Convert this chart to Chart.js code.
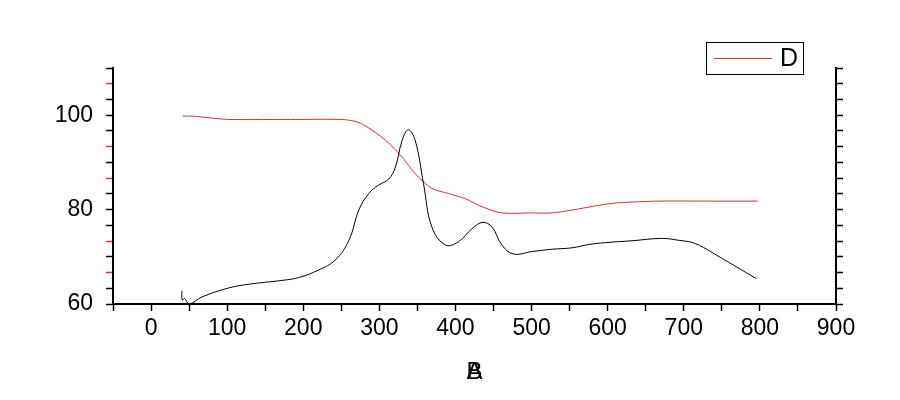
<!DOCTYPE html>
<html>
<head>
<meta charset="utf-8">
<script src="https://cdn.jsdelivr.net/npm/chart.js@4.4.1/dist/chart.umd.min.js"></script>
<style>
  body { margin: 0; background: #fff; }
  #wrap { width: 900px; height: 400px; }
</style>
</head>
<body>
<div id="wrap"><canvas id="chart" width="900" height="400"></canvas></div>
<script>
// black curve (no legend entry)
const blackX = [40.5, 41, 44, 50, 67, 102, 129, 172, 194, 220, 242, 260, 273, 286, 299, 312, 321, 330, 338, 347,
    358, 369, 387, 404, 422, 436, 448, 461, 476, 500, 527, 553, 575, 597, 632, 671, 693, 715, 754, 795];
const blackY = [62.8, 60.8, 61.2, 60.0, 61.5, 63.4, 64.2, 65.0, 65.6, 67.2, 69.3, 73.5, 79.9, 83.4, 85.2, 86.4, 89.0, 94.7, 96.9, 94.7,
    85.5, 76.3, 72.5, 73.2, 76.0, 77.3, 76.3, 72.5, 70.6, 71.1, 71.6, 71.9, 72.6, 73.0, 73.4, 73.9, 73.5, 72.8, 69.3, 65.4];

// red curve "D"
const redX = [42, 54, 85, 102, 194, 250, 268, 281, 308, 330, 347, 369, 391, 413, 435, 461, 500, 527, 553, 588, 610, 632, 667, 736, 797];
const redY = [99.8, 99.8, 99.3, 99.1, 99.1, 99.1, 98.7, 97.8, 94.7, 91.1, 87.6, 84.5, 83.4, 82.3, 80.6, 79.3, 79.3, 79.3, 79.9, 80.9, 81.4, 81.6, 81.8, 81.8, 81.8];

const legendLabel = 'D';
const xTitles = ['B', 'A']; // both printed on the same spot

const xMin = -50, xMax = 900, xStep = 50;
const yMin = 60, yMax = 110, yStep = 10 / 3;

const font = 'Liberation Sans, Arial, sans-serif';
const red = '#cc3333';

function xTicks(scale) {
    const t = [];
    for (let v = xMin; v <= xMax; v += xStep) t.push({ value: v });
    scale.ticks = t;
}
function yTicks(scale) {
    const t = [];
    for (let i = 0; i <= 15; i++) t.push({ value: yMin + i * yStep });
    scale.ticks = t;
}
function isLabelled(v) {
    const r = Math.round(v);
    return Math.abs(v - r) < 1e-6 && r % 20 === 0;
}

const extras = {
    id: 'extras',
    afterDraw(chart) {
        const ctx = chart.ctx;
        const area = chart.chartArea;
        ctx.save();
        // legend box
        const bx = area.right - 130, by = 42, bw = 97, bh = 32;
        ctx.strokeStyle = '#000';
        ctx.lineWidth = 1;
        ctx.strokeRect(bx + 0.5, by + 0.5, bw, bh);
        ctx.strokeStyle = red;
        ctx.beginPath();
        ctx.moveTo(bx + 8, by + 16.5);
        ctx.lineTo(bx + 66, by + 16.5);
        ctx.stroke();
        ctx.fillStyle = '#000';
        ctx.font = '25px ' + font;
        ctx.textBaseline = 'middle';
        ctx.textAlign = 'left';
        ctx.fillText(legendLabel, bx + 74, by + 17);
        // x axis title, letters overlapping
        ctx.textAlign = 'center';
        ctx.font = '24px ' + font;
        const cx = (area.left + area.right) / 2;
        xTitles.forEach(t => ctx.fillText(t, cx, 372));
        ctx.restore();
    }
};

new Chart(document.getElementById('chart'), {
    type: 'line',
    data: {
        datasets: [
            {
                label: 'black',
                data: blackX.map((x, i) => ({ x: x, y: blackY[i] })),
                borderColor: '#000',
                borderWidth: 1,
                pointRadius: 0,
                tension: 0.4,
                yAxisID: 'y'
            },
            {
                label: legendLabel,
                data: redX.map((x, i) => ({ x: x, y: redY[i] })),
                borderColor: red,
                borderWidth: 1,
                pointRadius: 0,
                tension: 0.3,
                yAxisID: 'y'
            }
        ]
    },
    options: {
        responsive: false,
        animation: false,
        layout: { padding: { top: 68, left: 0, right: 0, bottom: 0 } },
        plugins: {
            legend: { display: false },
            tooltip: { enabled: false }
        },
        scales: {
            x: {
                type: 'linear',
                min: xMin,
                max: xMax,
                afterBuildTicks: xTicks,
                afterFit: s => { s.height = 96; },
                border: { display: true, color: '#000', width: 2 },
                grid: { drawOnChartArea: false, drawTicks: true, tickLength: 7, tickColor: '#000', tickWidth: 1.5 },
                ticks: {
                    color: '#000',
                    font: { family: font, size: 23 },
                    padding: 4,
                    maxRotation: 0,
                    autoSkip: false,
                    callback: v => (v % 100 === 0 ? v : '')
                }
            },
            y: {
                position: 'left',
                min: yMin,
                max: yMax,
                afterBuildTicks: yTicks,
                afterFit: s => { s.width = 113; },
                border: { display: true, color: '#000', width: 2 },
                grid: {
                    drawOnChartArea: false,
                    drawTicks: true,
                    tickLength: 7,
                    tickWidth: 1.5,
                    tickColor: c => (c.tick && !isLabelled(c.tick.value) && c.index % 2 === 0 ? red : '#000')
                },
                ticks: {
                    color: '#000',
                    font: { family: font, size: 23 },
                    padding: 13,
                    autoSkip: false,
                    callback: v => (isLabelled(v) ? Math.round(v) : '')
                }
            },
            y2: {
                position: 'right',
                min: yMin,
                max: yMax,
                afterBuildTicks: yTicks,
                afterFit: s => { s.width = 64; },
                border: { display: true, color: '#000', width: 2 },
                grid: { drawOnChartArea: false, drawTicks: true, tickLength: 7, tickColor: '#000', tickWidth: 1.5 },
                ticks: { display: true, autoSkip: false, callback: () => '' }
            }
        }
    },
    plugins: [extras]
});
</script>
</body>
</html>
